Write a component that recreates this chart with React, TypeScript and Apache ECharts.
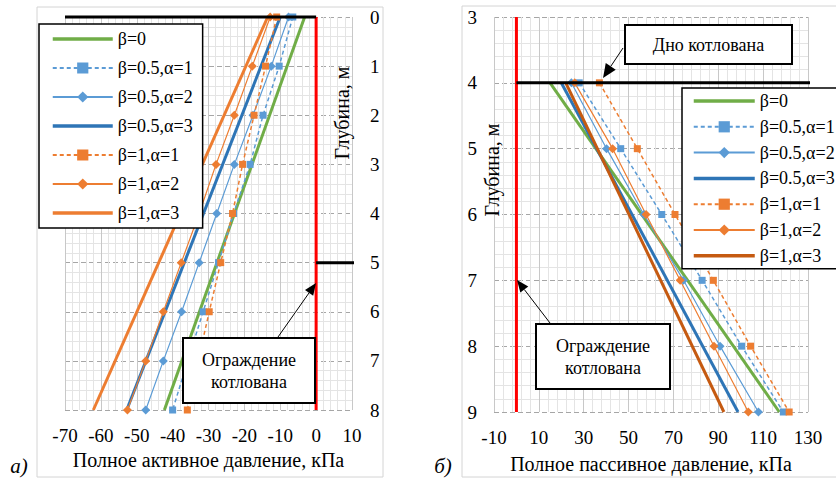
import React, { useEffect, useRef } from 'react';
import * as echarts from 'echarts';

// ---------- Panel а) active pressure ----------
const depthA = [0, 1, 2, 3, 4, 5, 6, 7, 8];
const depthAEnds = [0, 8];
const a_b0 = [-3.2, -42.3];
const a_b05a1 = [-6.5, -10.3, -14.8, -18.4, -23.0, -27.2, -31.5, -35.8, -40.0];
const a_b05a2 = [-7.7, -12.5, -17.6, -22.8, -27.7, -32.6, -37.5, -42.6, -47.5];
const a_b05a3 = [-10.0, -52.8];
const a_b1a1 = [-11.0, -14.1, -17.3, -20.5, -23.3, -26.6, -29.8, -32.9, -35.9];
const a_b1a2 = [-12.8, -17.8, -22.8, -27.9, -32.6, -37.6, -42.6, -47.5, -52.6];
const a_b1a3 = [-13.5, -62.1];
const a_wallX = [0, 0];
const a_wallDepth = [0, 8];
const a_groundX = [-70, 0];
const a_groundDepth = [0, 0];
const a_bottomX = [0, 10.8];
const a_bottomDepth = [5, 5];

// ---------- Panel б) passive pressure ----------
const depthB = [4, 5, 6, 7, 8, 9];
const depthBEnds = [4, 9];
const b_b0 = [15.0, 117.2];
const b_b05a1 = [28.0, 46.5, 64.8, 82.8, 100.4, 119.0];
const b_b05a2 = [24.5, 40.2, 56.8, 74.5, 90.8, 107.9];
const b_b05a3 = [20.0, 98.8];
const b_b1a1 = [37.0, 53.9, 70.7, 87.8, 104.4, 121.6];
const b_b1a2 = [26.0, 42.9, 57.8, 73.0, 88.1, 103.4];
const b_b1a3 = [22.0, 92.5];
const b_wallX = [0, 0];
const b_wallDepth = [3, 9];
const b_bottomX = [0, 131];
const b_bottomDepth = [4, 4];

const legendNames = ['β=0', 'β=0.5,α=1', 'β=0.5,α=2', 'β=0.5,α=3', 'β=1,α=1', 'β=1,α=2', 'β=1,α=3'];
const RP = 'б:'; // internal prefix for right panel series names

const FONT = 'Liberation Serif';
const GREEN = '#70ad47';
const BLUE = '#5b9bd5';
const DBLUE = '#2e75b6';
const ORANGE = '#ed7d31';
const BROWN = '#c55a11';

type Sty = { color: string; width: number; dashed?: boolean; symbol?: string; size?: number };

const styles: Sty[] = [
  { color: GREEN, width: 3 },
  { color: BLUE, width: 1.5, dashed: true, symbol: 'rect', size: 7 },
  { color: BLUE, width: 1.2, symbol: 'diamond', size: 9 },
  { color: DBLUE, width: 3 },
  { color: ORANGE, width: 1.5, dashed: true, symbol: 'rect', size: 7 },
  { color: ORANGE, width: 1.2, symbol: 'diamond', size: 9 },
  { color: ORANGE, width: 3 },
];

function pairs(xs: number[], ds: number[]) {
  return xs.map((v, i) => [v, ds[i]]);
}

function mkSeries(name: string, xs: number[], ds: number[], s: Sty, g: number) {
  return {
    type: 'line',
    name,
    xAxisIndex: g,
    yAxisIndex: g,
    data: pairs(xs, ds),
    symbol: s.symbol || 'none',
    symbolSize: s.size || 0,
    showSymbol: !!s.symbol,
    silent: true,
    color: s.color,
    itemStyle: { color: s.color },
    lineStyle: { color: s.color, width: s.width, type: s.dashed ? [4, 3] : 'solid' },
    emphasis: { disabled: true },
    z: 3,
  };
}

function refLine(xs: number[], ds: number[], color: string, g: number, width = 3) {
  return {
    type: 'line',
    xAxisIndex: g,
    yAxisIndex: g,
    data: pairs(xs, ds),
    symbol: 'none',
    silent: true,
    clip: false,
    lineStyle: { color, width },
    emphasis: { disabled: true },
    z: 4,
  };
}

function arrow(x1: number, y1: number, tx: number, ty: number, len: number, half: number) {
  const dx = tx - x1, dy = ty - y1;
  const L = Math.sqrt(dx * dx + dy * dy);
  const ux = dx / L, uy = dy / L;
  const bx = tx - ux * len, by = ty - uy * len;
  const nx = -uy, ny = ux;
  return [
    { type: 'line', z: 20, shape: { x1, y1, x2: bx, y2: by }, style: { stroke: '#000', lineWidth: 1 } },
    {
      type: 'polygon', z: 20,
      shape: { points: [[tx, ty], [bx + nx * half, by + ny * half], [bx - nx * half, by - ny * half]] },
      style: { fill: '#000' },
    },
  ];
}

function txt(text: string, x: number, y: number, size: number, extra: any = {}, italic = false) {
  return {
    type: 'text', z: 21, x, y, ...extra,
    style: {
      text,
      fontSize: size, fontFamily: FONT, fontStyle: italic ? 'italic' : 'normal',
      fill: '#000',
      textAlign: 'center', textVerticalAlign: 'middle',
    },
  };
}

const axisLabel = { fontSize: 19, fontFamily: FONT, color: '#000' };

export default function App() {
  const ref = useRef<HTMLDivElement>(null);
  useEffect(() => {
    if (!ref.current) return;
    const chart = echarts.init(ref.current, undefined, { renderer: 'svg' });

    const leftData = [a_b0, a_b05a1, a_b05a2, a_b05a3, a_b1a1, a_b1a2, a_b1a3];
    const leftDepths = [depthAEnds, depthA, depthA, depthAEnds, depthA, depthA, depthAEnds];
    const rightData = [b_b0, b_b05a1, b_b05a2, b_b05a3, b_b1a1, b_b1a2, b_b1a3];
    const rightDepths = [depthBEnds, depthB, depthB, depthBEnds, depthB, depthB, depthBEnds];
    const rightStyles = styles.map((s, i) => (i === 6 ? { ...s, color: BROWN } : s));

    const series: any[] = [];
    series.push(refLine(a_wallX, a_wallDepth, '#ff0000', 0));
    series.push(refLine(b_wallX, b_wallDepth, '#ff0000', 1));
    legendNames.forEach((n, i) => series.push(mkSeries(n, leftData[i], leftDepths[i], styles[i], 0)));
    legendNames.forEach((n, i) => series.push(mkSeries(RP + n, rightData[i], rightDepths[i], rightStyles[i], 1)));
    series.push(refLine(a_groundX, a_groundDepth, '#000', 0));
    series.push(refLine(a_bottomX, a_bottomDepth, '#000', 0));
    series.push(refLine(b_bottomX, b_bottomDepth, '#000', 1));

    const splitX = { show: true, lineStyle: { color: '#c8c8c8', width: 1 } };
    const splitY = { show: true, lineStyle: { color: '#a6a6a6', width: 1, type: [5, 3] } };
    const minorSplit = { show: true, lineStyle: { color: '#e4e4e4', width: 1 } };

    const legendCommon = {
      orient: 'vertical',
      itemWidth: 60,
      itemHeight: 14,
      backgroundColor: '#fff',
      borderColor: '#000',
      borderWidth: 1.5,
      borderRadius: 0,
      selectedMode: false,
      textStyle: { fontSize: 18, fontFamily: FONT, color: '#000' },
      z: 10,
    };
    const legendItems = (prefix: string) =>
      legendNames.map((n, i) =>
        styles[i].symbol
          ? { name: prefix + n }
          : { name: prefix + n, itemStyle: { opacity: 0 }, lineStyle: { width: 3.5 } });

    const graphic: any[] = [
      { type: 'rect', z: 0, shape: { x: 37, y: 7, width: 346, height: 470 }, style: { fill: 'none', stroke: '#d4d4d4', lineWidth: 1 } },
      { type: 'rect', z: 0, shape: { x: 462, y: 6, width: 390, height: 471 }, style: { fill: 'none', stroke: '#d4d4d4', lineWidth: 1 } },
      txt('Глубина, м', 342, 113, 20, { rotation: Math.PI / 2 }),
      txt('Глубина, м', 492, 170, 20, { rotation: Math.PI / 2 }),
      txt('а)', 19, 466, 21, {}, true),
      txt('б)', 443, 466, 21, {}, true),
      // left annotation
      ...arrow(278, 337, 316, 283, 12, 5),
      { type: 'rect', z: 20, shape: { x: 183, y: 338, width: 132, height: 65 }, style: { fill: '#fff', stroke: '#000', lineWidth: 2 } },
      txt('Ограждение', 249, 359.5, 18),
      txt('котлована', 249, 381.5, 18),
      // right: bottom of pit
      ...arrow(623, 48, 603, 78, 14, 6),
      { type: 'rect', z: 20, shape: { x: 625, y: 25, width: 167, height: 39 }, style: { fill: '#fff', stroke: '#000', lineWidth: 2 } },
      txt('Дно котлована', 708.5, 45, 18),
      // right: wall
      ...arrow(550, 323, 517, 280, 12, 5),
      { type: 'rect', z: 20, shape: { x: 536, y: 324, width: 134, height: 65 }, style: { fill: '#fff', stroke: '#000', lineWidth: 2 } },
      txt('Ограждение', 603, 345.5, 18),
      txt('котлована', 603, 367.5, 18),
    ];

    chart.setOption({
      animation: false,
      grid: [
        { left: 65, top: 17, width: 287, height: 393 },
        { left: 494, top: 17, width: 314, height: 395 },
      ],
      xAxis: [
        {
          gridIndex: 0, type: 'value', min: -70, max: 10, interval: 10,
          axisLine: { show: false }, axisTick: { show: false },
          axisLabel: { ...axisLabel, margin: 16 },
          splitLine: splitX,
          minorTick: { show: false, splitNumber: 5 },
          minorSplitLine: minorSplit,
          name: 'Полное активное давление, кПа', nameLocation: 'middle', nameGap: 37,
          nameTextStyle: { fontSize: 20, fontFamily: FONT, color: '#000' },
        },
        {
          gridIndex: 1, type: 'value', min: -10, max: 130, interval: 20,
          axisLine: { show: false }, axisTick: { show: false },
          axisLabel: { ...axisLabel, margin: 16 },
          splitLine: splitX,
          minorTick: { show: false, splitNumber: 5 },
          minorSplitLine: minorSplit,
          name: 'Полное пассивное давление, кПа', nameLocation: 'middle', nameGap: 42,
          nameTextStyle: { fontSize: 20, fontFamily: FONT, color: '#000' },
        },
      ],
      yAxis: [
        {
          gridIndex: 0, type: 'value', min: 0, max: 8, interval: 1, inverse: true, position: 'right',
          axisLine: { show: false }, axisTick: { show: false },
          axisLabel: { ...axisLabel, margin: 18 },
          splitLine: splitY,
          minorTick: { show: false, splitNumber: 5 },
          minorSplitLine: minorSplit,
        },
        {
          gridIndex: 1, type: 'value', min: 3, max: 9, interval: 1, inverse: true, position: 'left',
          axisLine: { show: false }, axisTick: { show: false },
          axisLabel: { ...axisLabel, margin: 17 },
          splitLine: splitY,
          minorTick: { show: false, splitNumber: 5 },
          minorSplitLine: minorSplit,
        },
      ],
      legend: [
        {
          ...legendCommon,
          left: 39, top: 24,
          padding: [6, 10, 6, 12],
          itemGap: 11,
          data: legendItems(''),
        },
        {
          ...legendCommon,
          left: 682, top: 88,
          padding: [4, 8, 4, 10],
          itemWidth: 61,
          itemGap: 7.8,
          data: legendItems(RP),
          formatter: (n: string) => n.replace(RP, ''),
        },
      ],
      graphic,
      series,
    });
    return () => chart.dispose();
  }, []);
  return <div ref={ref} style={{ position: 'absolute', left: 0, top: 0, width: 836, height: 484, background: '#fff' }} />;
}
